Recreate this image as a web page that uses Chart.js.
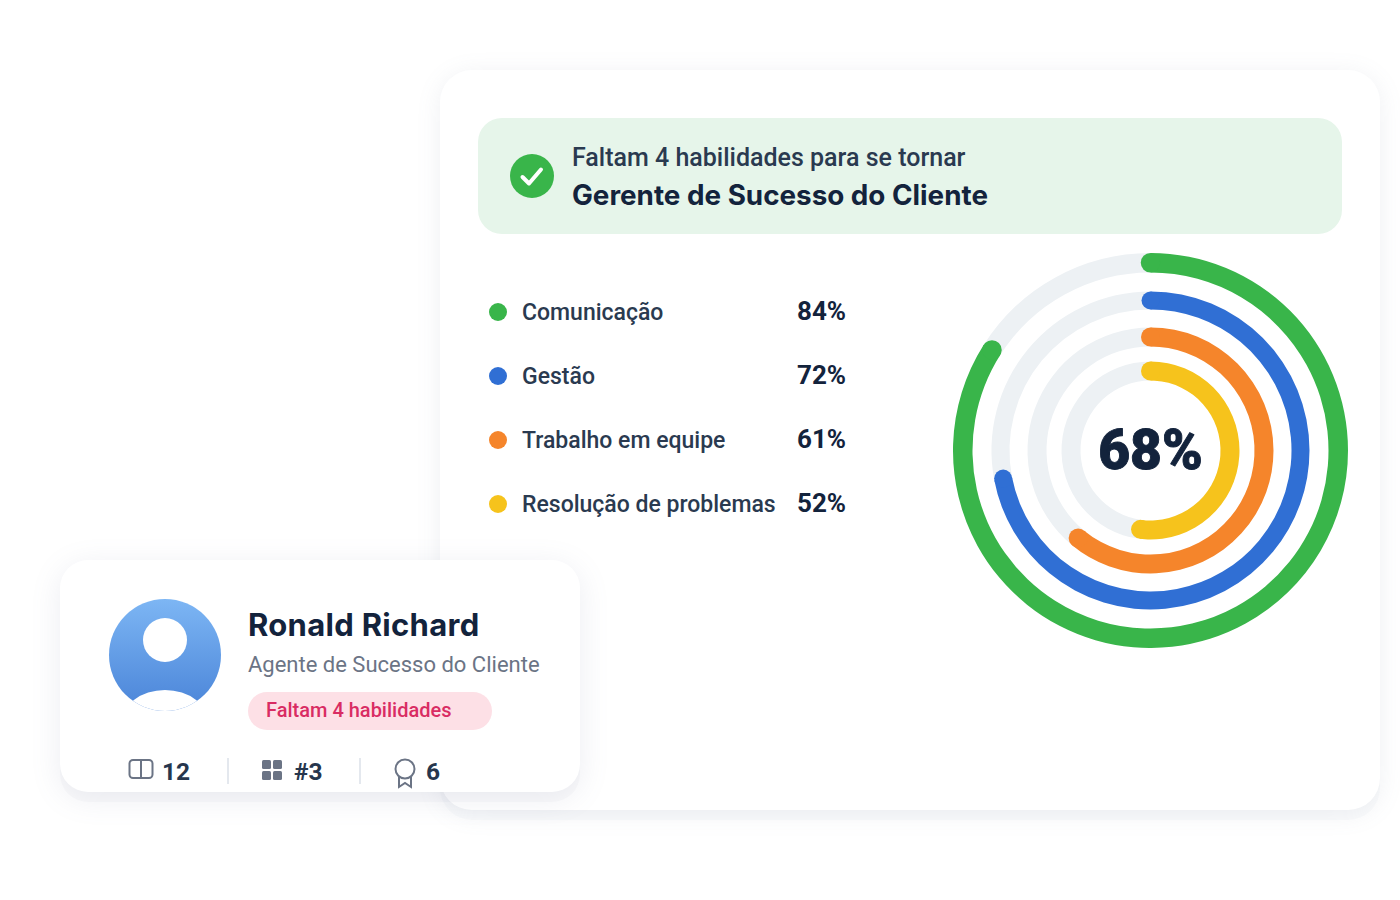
<!DOCTYPE html>
<html lang="pt-BR"><head><meta charset="utf-8">
<script src="https://cdn.jsdelivr.net/npm/chart.js@4/dist/chart.umd.min.js"></script>
<style>
html,body{margin:0;padding:0;background:#fff;width:1400px;height:900px;overflow:hidden}
body{position:relative;font-family:Roboto,sans-serif;color:#26364d}
.abs{position:absolute;white-space:nowrap}
.card{position:absolute;background:#fff;border-radius:32px}
#main{left:440px;top:70px;width:940px;height:740px;box-shadow:0 10px 0 rgba(120,130,160,.035),0 4px 24px rgba(120,130,160,.12)}
#side{left:60px;top:560px;width:520px;height:232px;border-radius:28px;box-shadow:0 10px 0 rgba(120,130,160,.04),0 6px 30px rgba(120,130,160,.14)}
#banner{position:absolute;left:478px;top:118px;width:864px;height:116px;background:#e6f5ea;border-radius:24px}
#wrap{position:absolute;left:953px;top:253px;width:395px;height:395px}
.lbl{font-weight:500;font-size:23px;line-height:28px;color:#2a3a50}
.pct{font-weight:700;font-size:26px;line-height:28px;color:#13233c}
.dot{position:absolute;width:18px;height:18px;border-radius:50%}
.stat{font-weight:700;font-size:24.5px;line-height:28px;color:#26364d}
.sep{position:absolute;top:758px;width:2px;height:26px;background:#e4e8ee}
</style></head><body>
<div class="card" id="main"></div>
<div id="banner"></div>
<svg class="abs" style="left:510px;top:154px" width="44" height="44" viewBox="0 0 44 44"><circle cx="22" cy="22" r="22" fill="#39b54a"/><path d="M12.5 23 L19 29.5 L31 15.5" fill="none" stroke="#fff" stroke-width="4" stroke-linecap="round" stroke-linejoin="round"/></svg>
<div class="abs" id="bannerTop" style="left:572px;top:143px;font-weight:500;font-size:25px;line-height:30px;color:#2a3a50"></div>
<div class="abs" id="bannerBottom" style="left:572px;top:178px;font-family:Inter;font-weight:700;font-size:27.8px;line-height:34px;color:#13233c"></div>
<div id="legend"></div>
<div id="wrap"><canvas id="c"></canvas></div>
<div class="card" id="side"></div>
<svg class="abs" style="left:109px;top:599px" width="112" height="112" viewBox="0 0 112 112"><defs><linearGradient id="g" x1="0" y1="0" x2="0" y2="1"><stop offset="0" stop-color="#7db6f4"/><stop offset="1" stop-color="#4a84d8"/></linearGradient><clipPath id="cl"><circle cx="56" cy="56" r="56"/></clipPath></defs><circle cx="56" cy="56" r="56" fill="url(#g)"/><circle cx="56" cy="41" r="22" fill="#fff"/><ellipse cx="56" cy="125" rx="44" ry="34" fill="#fff" clip-path="url(#cl)"/></svg>
<div class="abs" id="personName" style="left:248px;top:606px;font-family:Inter;font-weight:700;font-size:31px;line-height:38px;letter-spacing:.3px;color:#13233c"></div>
<div class="abs" id="role" style="left:248px;top:651px;font-size:22px;line-height:28px;color:#6b7485"></div>
<div class="abs" style="left:248px;top:692px;width:244px;height:38px;border-radius:19px;background:#fde0e6"></div>
<div class="abs" id="tag" style="left:266px;top:696px;font-weight:500;font-size:20px;line-height:28px;color:#d92c63"></div>
<svg class="abs" style="left:128px;top:758px" width="26" height="22" viewBox="0 0 26 22"><rect x="1.5" y="2" width="23" height="18" rx="3.5" fill="none" stroke="#6b7485" stroke-width="2"/><path d="M13 2V20" stroke="#6b7485" stroke-width="2"/></svg>
<svg class="abs" style="left:262px;top:760px" width="20" height="20" viewBox="0 0 20 20" fill="#6b7485"><rect width="9" height="9" rx="1.5"/><rect x="11" width="9" height="9" rx="1.5"/><rect y="11" width="9" height="9" rx="1.5"/><rect x="11" y="11" width="9" height="9" rx="1.5"/></svg>
<svg class="abs" style="left:393px;top:758px" width="24" height="31" viewBox="0 0 24 31" fill="none" stroke="#6b7485" stroke-width="2"><circle cx="12" cy="11" r="9.5"/><path d="M6 19V29L12 25L18 29V19"/></svg>
<div class="sep" style="left:227px"></div><div class="sep" style="left:359px"></div>
<div class="abs stat" id="s0" style="left:162px;top:758px"></div>
<div class="abs stat" id="s1" style="left:294px;top:758px"></div>
<div class="abs stat" id="s2" style="left:426px;top:758px"></div>
<script>
const categories=["Comunicação","Gestão","Trabalho em equipe","Resolução de problemas"];
const values=[84,72,61,52];
const seriesColors=["#39b54a","#306fd4","#f5852b","#f6c31c"];
const trackColor="#edf1f4";
const ringWeights=[19.5,19,18,18,19,15,19];
const centerLabel="68%";
const bannerLines=["Faltam 4 habilidades para se tornar","Gerente de Sucesso do Cliente"];
const person=["Ronald Richard","Agente de Sucesso do Cliente","Faltam 4 habilidades"];
const stats=["12","#3","6"];

document.getElementById("bannerTop").textContent=bannerLines[0];
document.getElementById("bannerBottom").textContent=bannerLines[1];
document.getElementById("personName").textContent=person[0];
document.getElementById("role").textContent=person[1];
document.getElementById("tag").textContent=person[2];
stats.forEach((s,i)=>document.getElementById("s"+i).textContent=s);
const rows=[298,362,426,490];
const lg=document.getElementById("legend");
categories.forEach((c,i)=>{
 lg.insertAdjacentHTML("beforeend",`<div class="dot" style="left:489px;top:${rows[i]+5}px;background:${seriesColors[i]}"></div><div class="abs lbl" style="left:522px;top:${rows[i]+1}px">${c}</div><div class="abs pct" style="left:797px;top:${rows[i]-1}px">${values[i]}%</div>`);
});

const datasets=[];
values.forEach((v,i)=>{
 datasets.push({data:[v,100-v],backgroundColor:[seriesColors[i],trackColor],borderWidth:0,weight:ringWeights[i*2],isRing:true});
 if(i<values.length-1)datasets.push({data:[100],backgroundColor:["rgba(0,0,0,0)"],borderWidth:0,weight:ringWeights[i*2+1]});
});
const roundCaps={id:"roundCaps",afterDatasetsDraw(ch){
 const x=ch.ctx;
 ch.data.datasets.forEach((d,i)=>{
  if(!d.isRing)return;
  const a=ch.getDatasetMeta(i).data[0];
  const r=(a.innerRadius+a.outerRadius)/2,w=(a.outerRadius-a.innerRadius)/2;
  x.save();x.fillStyle=d.backgroundColor[0];
  [a.startAngle,a.endAngle].forEach(t=>{x.beginPath();x.arc(a.x+r*Math.cos(t),a.y+r*Math.sin(t),w,0,Math.PI*2);x.fill();});
  x.restore();
 });
}};
const centerText={id:"centerText",afterDraw(ch){
 const x=ch.ctx,a=ch.getDatasetMeta(0).data[0];
 x.save();x.font="900 55px Roboto";x.fillStyle="#13233c";x.strokeStyle="#13233c";x.lineWidth=.9;x.lineJoin="round";x.textAlign="center";x.textBaseline="alphabetic";
 x.fillText(centerLabel,a.x,a.y+18.5);x.strokeText(centerLabel,a.x,a.y+18.5);x.restore();
}};
new Chart(document.getElementById("c"),{type:"doughnut",data:{labels:[categories[0],"restante"],datasets},
 options:{responsive:true,maintainAspectRatio:false,animation:false,cutout:70,layout:{padding:0},
  plugins:{legend:{display:false},tooltip:{enabled:false}}},plugins:[roundCaps,centerText]});
</script>
</body></html>
